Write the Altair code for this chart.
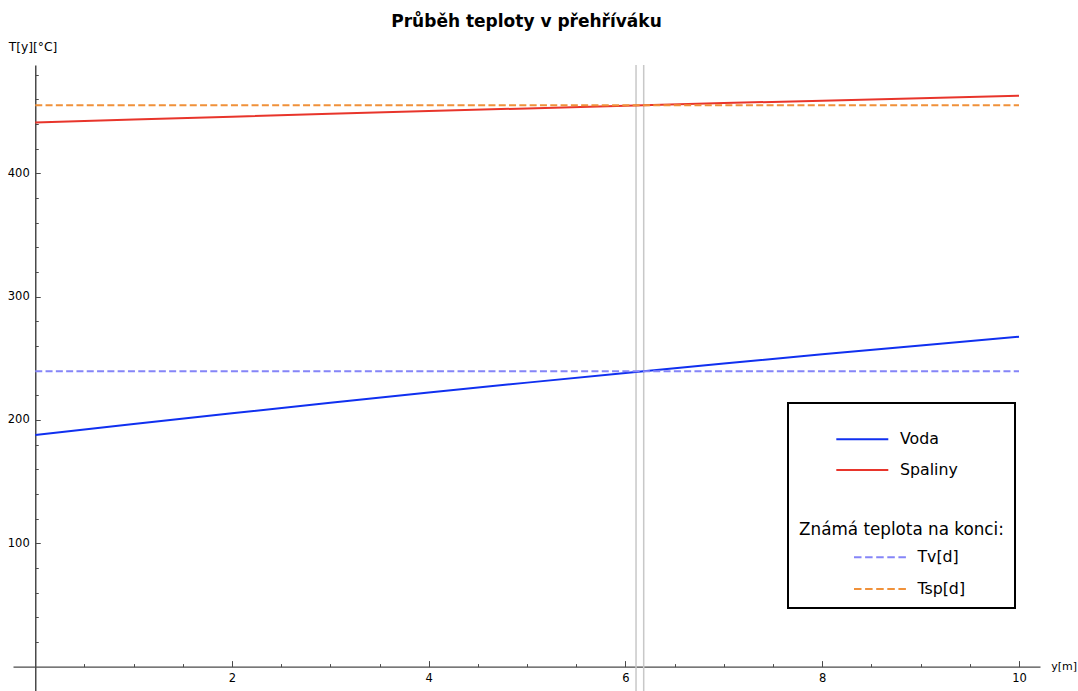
import altair as alt
import pandas as pd

# ---- data ----
x_pos = [0, 1, 2, 3, 4, 5, 6, 7, 8, 9, 10]
voda = [187.8, 196.7, 205.4, 213.9, 222.2, 230.3, 238.1, 245.8, 253.3, 260.5, 267.6]
spaliny = [441.3, 443.7, 446.0, 448.3, 450.5, 452.7, 454.9, 457.0, 459.0, 461.0, 463.0]
series_names = ["Voda", "Spaliny"]

known_x = [0, 10]
known_names = ["Tv[d]", "Tsp[d]"]
known_vals = [239.5, 455.2]

marker_x = [6.107, 6.185]

x_major = [2, 4, 6, 8, 10]
x_minor = [0.5, 1, 1.5, 2.5, 3, 3.5, 4.5, 5, 5.5, 6.5, 7, 7.5, 8.5, 9, 9.5]
y_major = [100, 200, 300, 400]
y_minor = [20, 40, 60, 80, 120, 140, 160, 180, 220, 240, 260, 280,
           320, 340, 360, 380, 420, 440, 460, 480]

title_text = "Průběh teploty v přehříváku"
x_title = "y[m]"
y_title = "T[y][°C]"
legend_header = "Známá teplota na konci:"
BLANK = "\u2800"

# ---- tables ----
rows = []
for name, vals in zip(series_names, [voda, spaliny]):
    for xv, tv in zip(x_pos, vals):
        rows.append({"x": xv, "T": tv, "series": name})
df_solid = pd.DataFrame(rows)

rows = []
for name, val in zip(known_names, known_vals):
    for xv in known_x:
        rows.append({"x": xv, "T": val, "known": name})
df_known = pd.DataFrame(rows)

df_marker = pd.DataFrame({"x": marker_x})

FONT = "DejaVu Sans"
BLUE = "#1030f0"
RED = "#e8352b"
LBLUE = "#8585f8"
ORANGE = "#f0913a"
AXC = "#4a4a4a"

XS = alt.Scale(domain=[-0.2262, 10.2135], nice=False, zero=False)
YS = alt.Scale(domain=[-19.8, 487.9], nice=False, zero=False)

markers = alt.Chart(df_marker).mark_rule(color="#c8c8c8", strokeWidth=1.5).encode(
    x=alt.X("x:Q", scale=XS, axis=None)
)

solid = alt.Chart(df_solid).mark_line(strokeWidth=2).encode(
    x=alt.X("x:Q", scale=XS, axis=alt.Axis(
        orient="bottom", offset=-24.4, values=x_major, ticks=False, tickSize=0,
        labelPadding=5.5, labelFontSize=11.5, labelFont=FONT, labelColor="black",
        labelFlush=False, domainColor=AXC, domainWidth=1.2, grid=False,
        title=x_title, titleX=1037.7, titleY=0, titleAlign="left",
        titleBaseline="middle", titleAngle=0, titleFontSize=11,
        titleFontWeight="normal", titleFont=FONT, titleColor="black")),
    y=alt.Y("T:Q", scale=YS, axis=alt.Axis(
        orient="left", offset=-22.25, values=y_major, ticks=False, tickSize=0,
        labelPadding=6, labelFontSize=11.5, labelFont=FONT, labelColor="black",
        labelFlush=False, domainColor=AXC, domainWidth=1.5, grid=False,
        title=y_title, titleX=-2.75, titleY=-18.5, titleAlign="center",
        titleBaseline="middle", titleAngle=0, titleFontSize=12.3,
        titleFontWeight="normal", titleFont=FONT, titleColor="black")),
    color=alt.Color("series:N", scale=alt.Scale(domain=series_names, range=[BLUE, RED]),
                    legend=alt.Legend(
                        title=None, orient="none", legendX=832.8, legendY=357.8,
                        symbolType="M-1.677,0H1.677", symbolSize=961,
                        symbolStrokeWidth=2, symbolOffset=0, labelOffset=21.2,
                        labelFontSize=15.8, labelFont=FONT, labelColor="black",
                        rowPadding=5.8, padding=0, labelLimit=300)),
    detail="series:N",
)

known = alt.Chart(df_known).mark_line(strokeWidth=2, strokeDash=[7, 3.3]).encode(
    x=alt.X("x:Q", scale=XS, axis=alt.Axis(
        orient="top", offset=-601.6, values=x_major, labels=False, domain=False,
        tickSize=6, tickColor=AXC, tickWidth=1, grid=False, title=None)),
    y=alt.Y("T:Q", scale=YS, axis=alt.Axis(
        orient="right", offset=-1004.75, values=y_major, labels=False, domain=False,
        tickSize=5, tickColor=AXC, tickWidth=1, grid=False, title=None)),
    color=alt.Color("known:N", scale=alt.Scale(domain=known_names, range=[LBLUE, ORANGE]),
                    legend=alt.Legend(
                        title=[BLANK, BLANK, BLANK, BLANK, BLANK, legend_header],
                        orient="none", legendX=775, legendY=338,
                        titleFontSize=16.8, titleLineHeight=21.5, titleFont=FONT,
                        titleFontWeight="normal", titleColor="black", titlePadding=3,
                        titleBaseline="top",
                        titleLimit=400, strokeColor="black", padding=11,
                        symbolType="M-1.733,0H1.733", symbolSize=900,
                        symbolStrokeWidth=2, symbolDash=[7.5, 3.6], symbolOffset=65,
                        labelOffset=21.4, labelFontSize=15.8, labelFont=FONT,
                        labelColor="black", rowPadding=7.8, labelLimit=300)),
    detail="known:N",
)

minor = alt.Chart(df_known).mark_point(opacity=0).encode(
    x=alt.X("x:Q", scale=XS, axis=alt.Axis(
        orient="top", offset=-601.6, values=x_minor, labels=False, domain=False,
        tickSize=3, tickColor=AXC, tickWidth=1, grid=False, title=None)),
    y=alt.Y("T:Q", scale=YS, axis=alt.Axis(
        orient="right", offset=-1004.75, values=y_minor, labels=False, domain=False,
        tickSize=3, tickColor=AXC, tickWidth=1, grid=False, title=None)),
)

chart = alt.layer(markers, solid, known, minor).resolve_scale(
    color="independent"
).resolve_axis(
    x="independent", y="independent"
).properties(
    width=1027, height=626,
    autosize=alt.AutoSizeParams(type="none"),
    padding={"left": 13, "top": 65, "right": 38, "bottom": 0},
    background="white",
    title=alt.TitleParams(title_text, fontSize=17, fontWeight="bold", font=FONT,
                          anchor="middle", frame="group", offset=10, color="black"),
).configure_view(stroke=None).configure_legend(strokeWidth=2)

chart.save("out.html", embed_options={"renderer": "svg", "actions": False})
